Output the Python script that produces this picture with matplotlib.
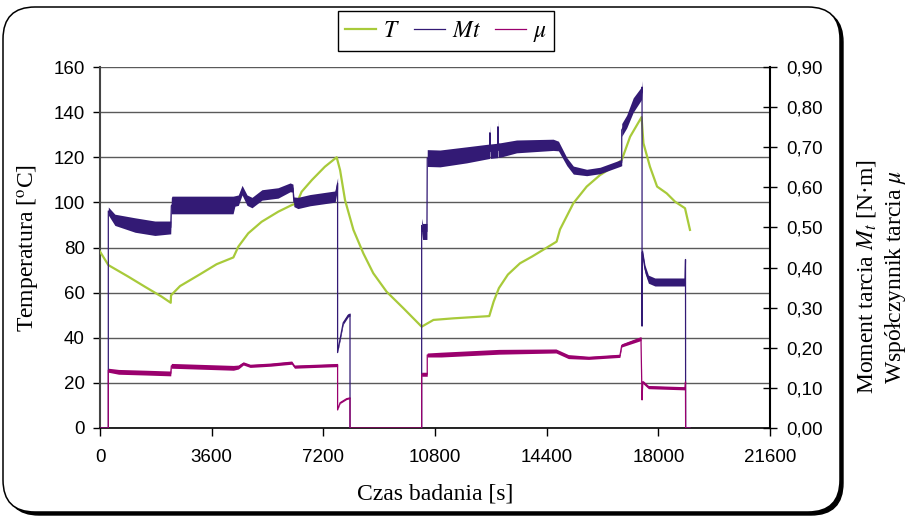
import matplotlib
matplotlib.use("Agg")
import matplotlib.pyplot as plt
import numpy as np
from matplotlib.patches import FancyBboxPatch
from matplotlib.transforms import IdentityTransform
from matplotlib.ticker import FuncFormatter

# temperatura T [oC] (lewa oś)
temp_t = [0, 270, 910, 1450, 1990, 2280, 2290, 2580, 3220, 3760, 4300, 4460, 4780,
          5210, 5750, 6180, 6340, 6500, 6830, 7250, 7630, 7740, 7900, 8170, 8490,
          8810, 9240, 9780, 10370, 10750, 11390, 12550, 12690, 12860, 13150, 13540,
          13930, 14350, 14720, 14830, 15260, 15690, 16120, 16550, 16820, 17090, 17460,
          17520, 17730, 17960, 18270, 18540, 18860, 19020]
temp_val = [78.2, 72.2, 67.1, 62.6, 58.2, 55.5, 58.8, 62.9, 68.1, 72.6, 75.6, 80.4, 86.3,
            91.4, 95.9, 98.8, 99.6, 104.7, 109.9, 115.8, 120.0, 114.3, 101.0, 87.8, 77.4,
            68.6, 60.4, 53.1, 44.9, 47.9, 48.6, 49.6, 56.0, 62.0, 68.0, 73.0,
            76.0, 79.5, 82.6, 88.0, 99.6, 107.0, 112.1, 115.8, 118.8, 129.1, 137.8,
            126.2, 115.8, 107.0, 104.0, 100.3, 97.4, 87.8]

# moment tarcia Mt [N*m] (prawa oś) + połowa szerokości pasma szumu
mt_t = [0, 268, 268, 480, 1130, 1770, 2280, 2300, 2320, 3220, 4290, 4350, 4460, 4580,
        4740, 4900, 5220, 5740, 6130, 6220, 6250, 6380, 6770, 7580, 7660, 7660, 7740,
        7840, 8000, 8060, 8060, 10370, 10370, 10400, 10540, 10550, 10960, 11820, 12560,
        12570, 12580, 12820, 12830, 12840, 12900, 13430, 14610, 14780, 15050, 15260,
        15690, 16120, 16760, 16820, 16820, 16980, 17190, 17460, 17475, 17475, 17485,
        17570, 17680, 17890, 18860, 18876, 18880, 19020]
mt_val = [0, 0, 0.541, 0.519, 0.506, 0.498, 0.500, 0.554, 0.556, 0.556, 0.556, 0.566,
          0.568, 0.593, 0.568, 0.562, 0.581, 0.586, 0.600, 0.598, 0.564, 0.561, 0.568,
          0.577, 0.610, 0.188, 0.222, 0.262, 0.281, 0.283, -0.003, -0.003, 0.505, 0.490,
          0.490, 0.673, 0.672, 0.681, 0.690, 0.736, 0.690, 0.692, 0.751, 0.693, 0.693,
          0.702, 0.706, 0.703, 0.664, 0.643, 0.637, 0.642, 0.660, 0.662, 0.743, 0.764,
          0.805, 0.835, 0.850, 0.254, 0.439, 0.396, 0.371, 0.364, 0.364, 0.420, 0.0, 0.0]
mt_spread = [0, 0, 0.010, 0.014, 0.018, 0.018, 0.016, 0.020, 0.022, 0.022, 0.022, 0.013,
             0.013, 0.012, 0.013, 0.013, 0.013, 0.013, 0.011, 0.010, 0.012, 0.014, 0.014,
             0.014, 0.014, 0, 0.004, 0.004, 0.004, 0.004, 0, 0, 0.018, 0.020, 0.020, 0.021,
             0.021, 0.020, 0.018, 0.018, 0.018, 0.018, 0.018, 0.018, 0.018, 0.016, 0.014,
             0.012, 0.010, 0.010, 0.008, 0.008, 0.008, 0.008, 0.016, 0.016, 0.018, 0.016,
             0.016, 0, 0.008, 0.010, 0.010, 0.010, 0.010, 0.010, 0, 0]

# współczynnik tarcia mu (prawa oś)
mu_t = [0, 268, 268, 600, 1500, 2280, 2300, 4300, 4460, 4620, 4840, 5500, 6180, 6270,
        7660, 7660, 7740, 7950, 8060, 8060, 10370, 10370, 10550, 10550, 11000, 12860,
        14700, 15100, 15750, 16760, 16820, 17440, 17475, 17497, 17680, 18860, 18876,
        18880, 19020]
mu_val = [0, 0, 0.144, 0.140, 0.138, 0.136, 0.155, 0.150, 0.152, 0.161, 0.155, 0.158,
          0.163, 0.153, 0.157, 0.045, 0.063, 0.073, 0.075, 0, 0, 0.134, 0.134, 0.182,
          0.183, 0.190, 0.192, 0.178, 0.175, 0.180, 0.206, 0.223, 0.070, 0.115, 0.102,
          0.099, 0.115, 0, 0]
mu_spread = [0, 0, 0.005, 0.006, 0.006, 0.006, 0.006, 0.006, 0.005, 0.004, 0.004, 0.004,
             0.004, 0.004, 0.004, 0, 0.002, 0.002, 0.002, 0, 0, 0.005, 0.005, 0.005, 0.006,
             0.006, 0.005, 0.005, 0.004, 0.004, 0.004, 0.005, 0, 0.004, 0.004, 0.004, 0.004,
             0, 0]

x_ticks = [0, 3600, 7200, 10800, 14400, 18000, 21600]

c_temp = "#A8CA3A"
c_mt = "#331A75"
c_mu = "#9A006E"

plt.rcParams["mathtext.fontset"] = "stix"
sans = "Liberation Sans"
serif = "Liberation Serif"

fig = plt.figure(figsize=(9.15, 5.16), dpi=100)

# zaokrąglona ramka z cieniem
shadow = FancyBboxPatch((7, 1), 836, 505, boxstyle="round,pad=0,rounding_size=32",
                        transform=IdentityTransform(), facecolor="black",
                        edgecolor="black", lw=1, zorder=-20)
frame = FancyBboxPatch((3, 4), 837, 505, boxstyle="round,pad=0,rounding_size=32",
                       transform=IdentityTransform(), facecolor="white",
                       edgecolor="black", lw=1.1, zorder=-10)
fig.add_artist(shadow)
fig.add_artist(frame)

ax = fig.add_axes([100 / 915, 1 - 428 / 516, 670 / 915, 361 / 516])
ax.patch.set_visible(False)
ax2 = ax.twinx()

l_t, = ax.plot(temp_t, temp_val, color=c_temp, lw=1.6, zorder=3)

mt_v = np.array(mt_val)
mt_s = np.array(mt_spread)
ax2.fill_between(mt_t, mt_v - mt_s, mt_v + mt_s, color=c_mt, lw=0)
l_mt, = ax2.plot(mt_t, mt_val, color=c_mt, lw=0.9)

mu_v = np.array(mu_val)
mu_s = np.array(mu_spread)
ax2.fill_between(mu_t, mu_v - mu_s, mu_v + mu_s, color=c_mu, lw=0)
l_mu, = ax2.plot(mu_t, mu_val, color=c_mu, lw=0.9)

ax.set_xlim(0, 21600)
ax.set_ylim(0, 160)
ax.set_xticks(x_ticks)
ax.set_yticks(range(0, 161, 20))
ax.yaxis.grid(True, color="#5a5a5a", lw=1.0)
ax.set_axisbelow(True)

ax2.set_ylim(0, 0.9)
ax2.set_yticks(np.arange(0, 0.91, 0.1))
ax2.yaxis.set_major_formatter(FuncFormatter(lambda v, _: f"{v:.2f}".replace(".", ",")))

for a in (ax, ax2):
    a.spines["top"].set_visible(False)
ax.spines["right"].set_visible(False)
ax2.spines["left"].set_visible(False)
ax2.spines["bottom"].set_visible(False)
ax.spines["left"].set_color("#444444")
ax.spines["left"].set_linewidth(1.5)
ax.spines["bottom"].set_linewidth(1.2)
ax2.spines["right"].set_linewidth(1.5)

ax.tick_params(axis="y", direction="out", length=5, width=1, pad=6, labelsize=13.5)
ax.tick_params(axis="x", direction="out", length=6, width=1, pad=9, labelsize=13.5)
ax2.tick_params(axis="y", direction="inout", length=10, width=1, pad=7, labelsize=13.5)
for lab in ax.get_xticklabels() + ax.get_yticklabels() + ax2.get_yticklabels():
    lab.set_family(sans)

ax.set_xlabel("Czas badania [s]", family=serif, fontsize=17, labelpad=13)
ax.set_ylabel("Temperatura [$^{\\rm o}$C]", family=serif, fontsize=17, labelpad=8)

fig.text(867 / 915, 1 - 277 / 516, "Moment tarcia $M_t$ [N·m]", rotation=90,
         ha="center", va="center", family=serif, fontsize=17)
fig.text(895 / 915, 1 - 277 / 516, "Współczynnik tarcia $\\mu$", rotation=90,
         ha="center", va="center", family=serif, fontsize=17)

leg = ax2.legend([l_t, l_mt, l_mu], ["$T$", "$Mt$", "$\\mu$"], loc="center",
                 bbox_to_anchor=(446 / 915, 1 - 31 / 516), bbox_transform=fig.transFigure,
                 ncol=3, fontsize=17, frameon=True, fancybox=False, framealpha=1,
                 edgecolor="black", handlelength=1.3, handletextpad=0.3,
                 columnspacing=0.6, borderpad=0.3)
leg.get_frame().set_linewidth(1.0)

fig.savefig("out.png", dpi=100)
